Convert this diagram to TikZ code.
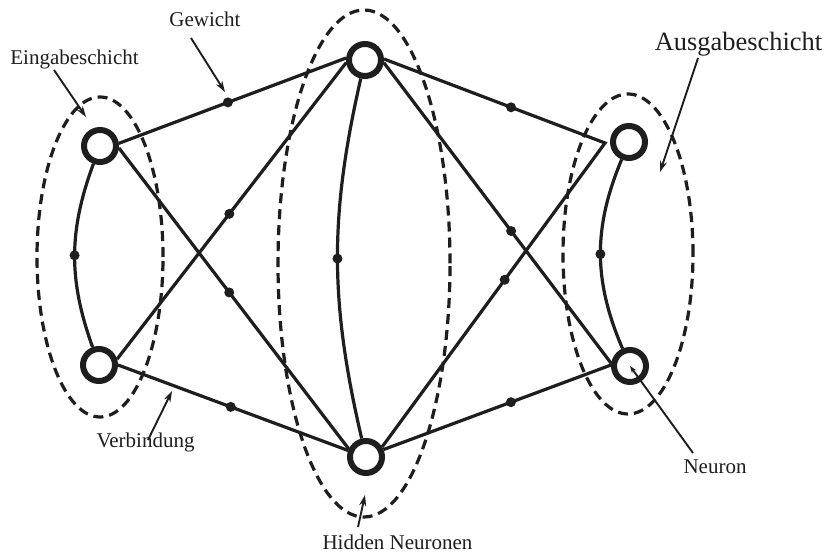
\documentclass[tikz,border=0pt]{standalone}
\usepackage{fontspec}
\setmainfont{Liberation Serif}
\usetikzlibrary{arrows.meta}
\definecolor{ink}{RGB}{30,30,30}
\begin{document}
\begin{tikzpicture}[x=1pt,y=1pt,
  neuron/.style={circle,draw=ink,line width=6pt,fill=white,minimum size=32pt,inner sep=0pt},
  link/.style={draw=ink,line width=3.2pt,line join=miter},
  wdot/.style={circle,fill=ink,inner sep=0pt,minimum size=10pt},
  layer/.style={draw=ink,line width=3.2pt,dash pattern=on 10pt off 6pt},
  lbl/.style={font=\fontsize{21}{25}\selectfont,inner sep=0pt,anchor=base,text=ink},
  biglbl/.style={font=\fontsize{26.4}{30}\selectfont,inner sep=0pt,anchor=base,text=ink},
  pointer/.style={draw=ink,line width=1.9pt,-{Stealth[length=11pt,width=7pt]}},
]
\path[fill=white] (0,0) rectangle (826,556);
\useasboundingbox (0,0) rectangle (826,556);

% layer ellipses
\draw[layer] (100,299) ellipse [x radius=63pt,y radius=160pt];
\draw[layer] (364,292.5) ellipse [x radius=86pt,y radius=253.5pt];
\draw[layer] (628,302) ellipse [x radius=65pt,y radius=160pt];

% neurons
\node[neuron] (i1) at (100,410) {};
\node[neuron] (i2) at (99,191) {};
\node[neuron] (h1) at (365,496) {};
\node[neuron] (h2) at (366,99) {};
\node[neuron] (o1) at (629,414) {};
\node[neuron] (o2) at (630,190) {};
\coordinate (o1j) at (605,413);

% connections with weights
\draw[link] (i1) to[bend right=20] node[wdot,pos=.5]{} (i2);
\draw[link] (i1.8) -- node[wdot,pos=.48]{} (h1.174);
\draw[link] (i1.-6) -- node[wdot,pos=.48]{} (h2.155);
\draw[link] (i2.18) -- node[wdot,pos=.49]{} (h1.188);
\draw[link] (i2.0) -- node[wdot,pos=.49]{} (h2.160);
\draw[link] (h1) to[bend right=13] node[wdot,pos=.5]{} (h2);
\draw[link] (h1.3) -- node[wdot,pos=.575]{} (o1j) -- node[wdot,pos=.45]{} (h2.32);
\draw[link] (h1.-8) -- node[wdot,pos=.56]{} (o2.172);
\draw[link] (h2.23) -- node[wdot,pos=.56]{} (o2.177);
\draw[link] (o1) to[bend right=23] node[wdot,pos=.5]{} (o2);

% labels
\node[lbl] (gew) at (205,529.3) {Gewicht};
\node[lbl] (ein) at (74.5,491) {Eingabeschicht};
\node[biglbl] (aus) at (738.5,505) {Ausgabeschicht};
\node[lbl] (ver) at (145.5,108) {Verbindung};
\node[lbl] (hid) at (397.5,6) {Hidden Neuronen};
\node[lbl] (neu) at (715,82) {Neuron};

% pointer coordinates
\coordinate (gewT) at (191,518); \coordinate (gewH) at (225,464);
\coordinate (einT) at (54,486);  \coordinate (einH) at (86,439);
\coordinate (ausT) at (698,498); \coordinate (ausH) at (660,384);
\coordinate (verT) at (148,116); \coordinate (verH) at (172,165);
\coordinate (hidT) at (358,29);  \coordinate (hidH) at (365,61);
\coordinate (neuT) at (693,103);

\draw[pointer] (gewT) -- (gewH);
\draw[pointer] (einT) -- (einH);
\draw[pointer] (ausT) -- (ausH);
\draw[pointer] (verT) -- (verH);
\draw[pointer] (hidT) -- (hidH);
\draw[draw=ink,line width=1.9pt,-{Stealth[length=7pt,width=5pt]}] (neuT) -- (o2.center);
\end{tikzpicture}
\end{document}
